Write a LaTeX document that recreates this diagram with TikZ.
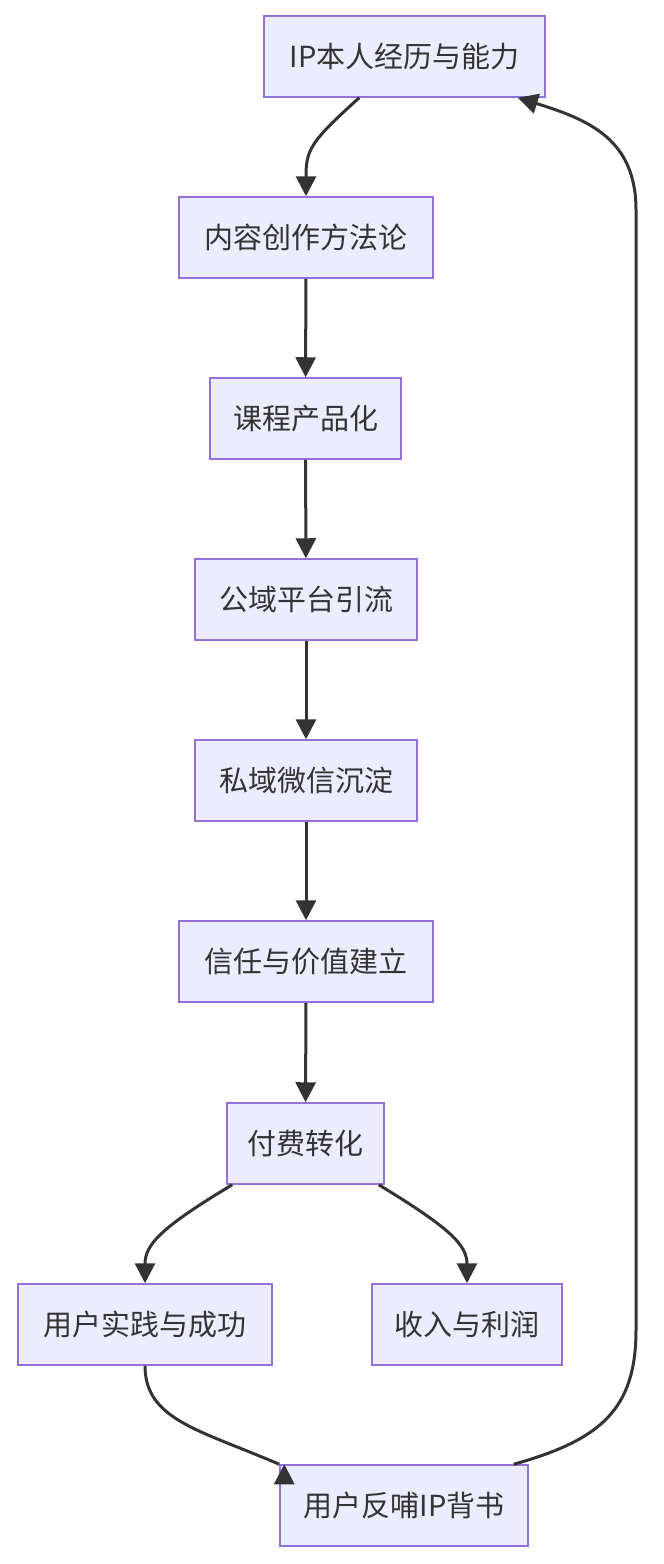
\documentclass[tikz,border=0pt]{standalone}
\usepackage{fontspec}
\setmainfont{Noto Sans CJK SC}
\usetikzlibrary{arrows.meta}
\definecolor{nfill}{HTML}{ECECFF}
\definecolor{nline}{HTML}{9370DB}
\definecolor{ink}{HTML}{333333}
\begin{document}
\begin{tikzpicture}[x=1pt,y=-1pt,
  box/.style={draw=nline,fill=nfill,line width=1.5pt,minimum height=81pt,inner xsep=15pt,text=ink,font=\fontsize{29}{34}\selectfont},
  arr/.style={draw=ink,line width=3pt,-{Triangle[length=20pt,width=20pt]}}]
\useasboundingbox (0,0) rectangle (664,1564);
\node[box,minimum width=281pt] (a) at (404.5,56.5) {IP本人经历与能力};
\node[box,minimum width=254pt] (b) at (306,237.5) {内容创作方法论};
\node[box,minimum width=191pt] (c) at (305.5,418.5) {课程产品化};
\node[box,minimum width=222pt] (d) at (306,599.5) {公域平台引流};
\node[box,minimum width=222pt] (e) at (306,780.5) {私域微信沉淀};
\node[box,minimum width=254pt] (f) at (306,961.5) {信任与价值建立};
\node[box,minimum width=157pt] (g) at (305.5,1143.5) {付费转化};
\node[box,minimum width=254pt] (h) at (145,1324.5) {用户实践与成功};
\node[box,minimum width=190pt] (i) at (467,1324.5) {收入与利润};
\node[box,minimum width=248pt] (j) at (404,1505.5) {用户反哺IP背书};
\draw[arr] (a.south west)++(96,0) .. controls (310,142) and (306,150) .. (b.north);
\draw[arr] (b) -- (c);
\draw[arr] (c) -- (d);
\draw[arr] (d) -- (e);
\draw[arr] (e) -- (f);
\draw[arr] (f) -- (g);
\draw[arr] (g.south west)++(6,0) .. controls (160,1228) and (145,1245) .. (h.north);
\draw[arr] (g.south east)++(-6,0) .. controls (450,1228) and (467,1245) .. (i.north);
\draw[arr] (h.south) .. controls (145,1420) and (200,1430) .. (j.north west)++(5,0);
\draw[arr] (j.north east)++(-15,0) .. controls (600,1440) and (636,1410) .. (636,1330) -- (636,210) .. controls (636,140) and (590,120) .. ([xshift=-28pt]a.south east);
\end{tikzpicture}
\end{document}
